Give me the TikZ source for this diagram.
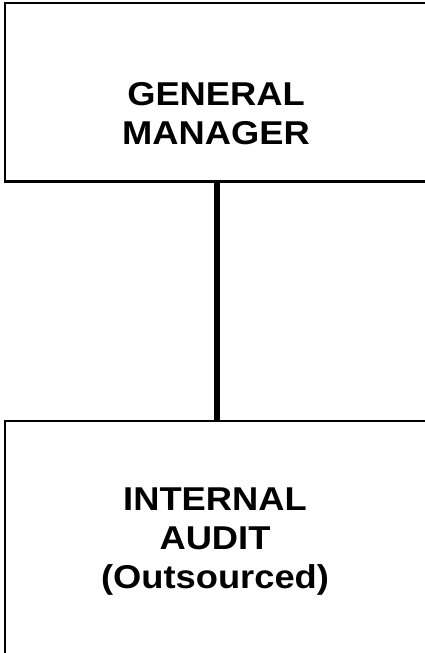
\documentclass[tikz,border=0pt]{standalone}
\usepackage{fontspec}
\newfontfamily\boxfont[FakeStretch=1.1]{Liberation Sans}
\begin{document}
\begin{tikzpicture}[x=1pt,y=-1pt,
  unitbox/.style={draw=black, line width=2.5pt, minimum width=424pt, inner sep=0pt},
  unittext/.style={align=center, inner sep=0pt, font=\boxfont\bfseries\fontsize{33}{39}\selectfont},
  link/.style={line width=6pt}]
  \useasboundingbox (0,0) rectangle (424,653);
  % organisation units
  \node[unitbox, minimum height=178.5pt] (gm) at (217,92.25) {};
  \node[unitbox, minimum height=234pt] (ia) at (217,538) {};
  \node[unittext] (gmt) at (216,113.5) {GENERAL\\MANAGER};
  \node[unittext] (iat) at (215,542) {INTERNAL\\AUDIT\\(Outsourced)};
  % reporting line
  \draw[link] (gm.south) -- (ia.north);
\end{tikzpicture}
\end{document}
